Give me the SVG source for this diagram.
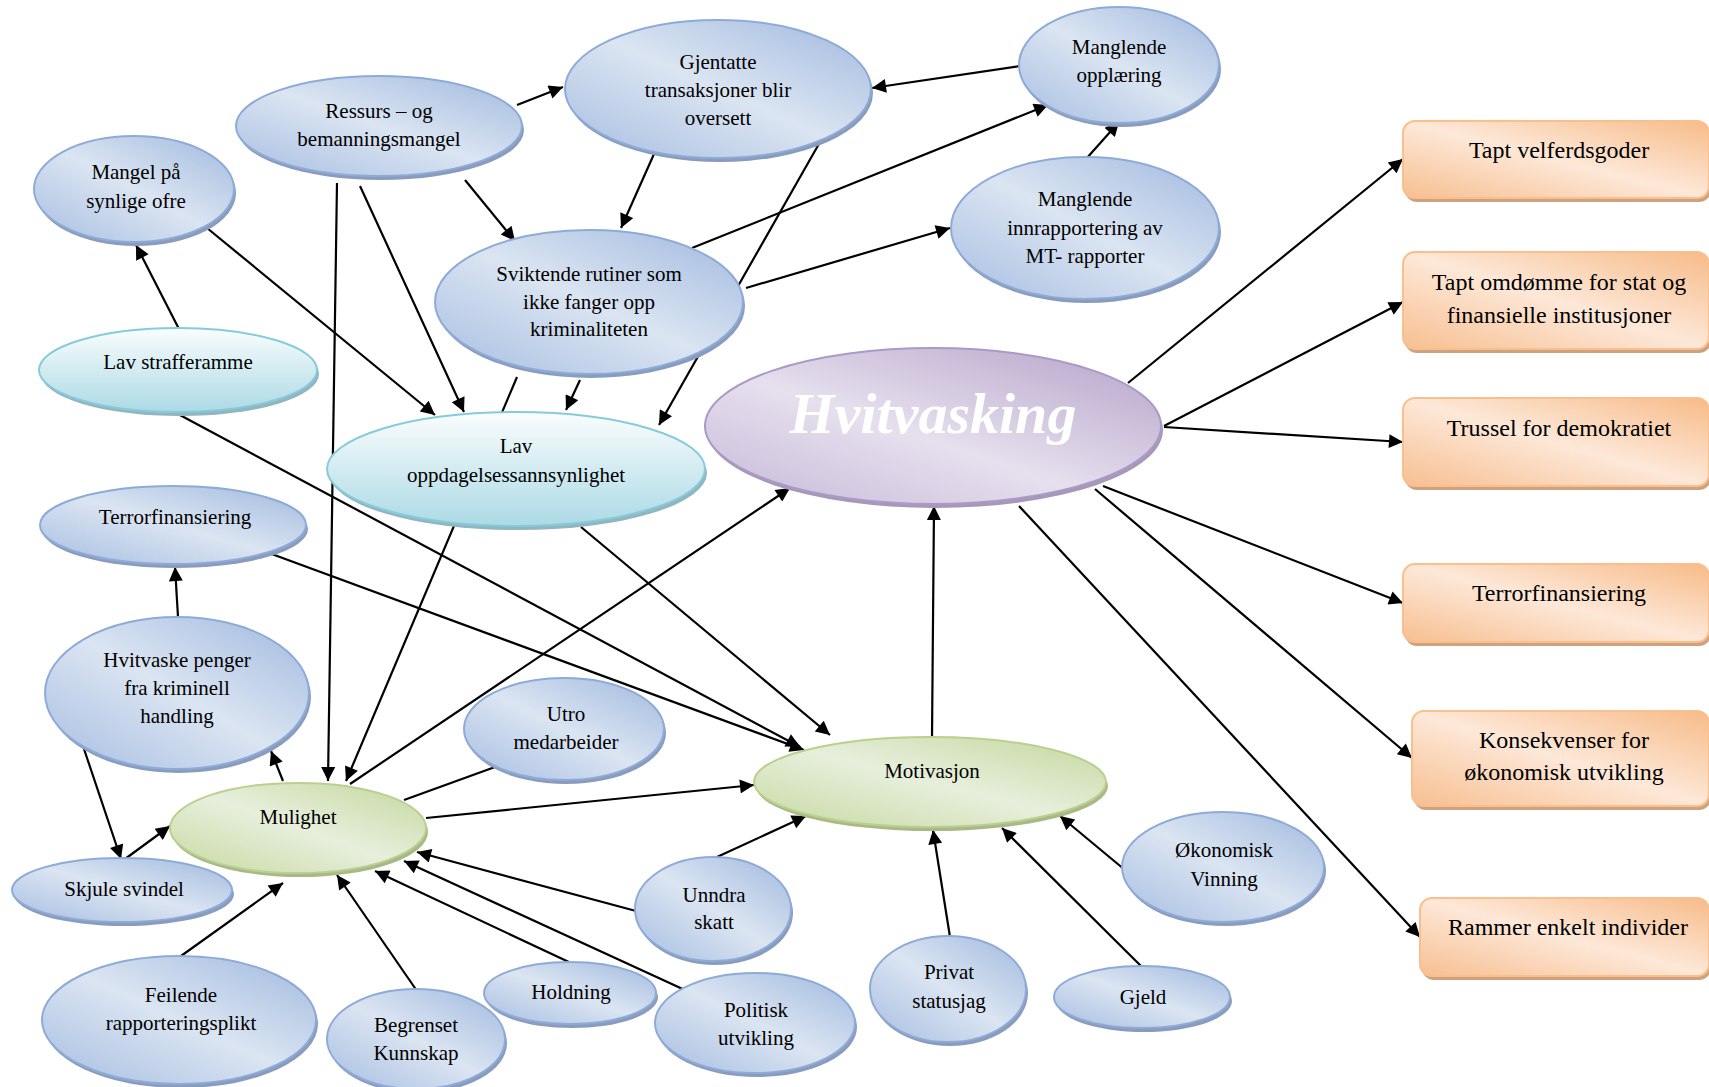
<svg xmlns="http://www.w3.org/2000/svg" width="1709" height="1087" viewBox="0 0 1709 1087">
<defs>
<linearGradient id="gBlue" x1="1" y1="0" x2="0" y2="1">
<stop offset="0" stop-color="#9fb8de"/><stop offset="0.5" stop-color="#dbe5f2"/><stop offset="1" stop-color="#a6bde1"/>
</linearGradient>
<linearGradient id="gGreen" x1="1" y1="0" x2="0" y2="1">
<stop offset="0" stop-color="#c4d79d"/><stop offset="0.5" stop-color="#e7efdc"/><stop offset="1" stop-color="#c7d9a1"/>
</linearGradient>
<linearGradient id="gCyan" x1="0" y1="0" x2="0" y2="1">
<stop offset="0" stop-color="#fafdfd"/><stop offset="1" stop-color="#acdae5"/>
</linearGradient>
<linearGradient id="gPurple" x1="1" y1="0" x2="0" y2="1">
<stop offset="0" stop-color="#b3a1c8"/><stop offset="0.55" stop-color="#e6e0ee"/><stop offset="1" stop-color="#c6b8d8"/>
</linearGradient>
<linearGradient id="gOrange" x1="1" y1="0" x2="0" y2="1">
<stop offset="0" stop-color="#f7bb88"/><stop offset="0.5" stop-color="#fde8d8"/><stop offset="1" stop-color="#f7bf91"/>
</linearGradient>
<marker id="ah" viewBox="0 0 10 10" refX="10" refY="5" markerWidth="16" markerHeight="14" markerUnits="userSpaceOnUse" orient="auto">
<path d="M0,0 L10,5 L0,10 z" fill="#000"/>
</marker>
<style>
.blue{fill:url(#gBlue);stroke:#8eabd8;stroke-width:2}
.green{fill:url(#gGreen);stroke:#b9d08e;stroke-width:2}
.cyan{fill:url(#gCyan);stroke:#86cbdb;stroke-width:2}
.purple{fill:url(#gPurple);stroke:#ab99c6;stroke-width:2}
.orange{fill:url(#gOrange);stroke:#f9bf8c;stroke-width:2}
.shb{fill:#8a9cbd}
.shg{fill:#a8b886}
.shc{fill:#92b5bf}
.shp{fill:#a898b8}
.sho{fill:#cfa27f}
text{font-family:"Liberation Serif","Times New Roman",serif;font-size:21px;fill:#000;text-anchor:middle}
.big{font-size:24px}
.title{font-size:58px;font-weight:bold;font-style:italic;fill:#fff}
#connectors line,#connectors path{stroke:#000;stroke-width:2.2;fill:none}
.a{marker-end:url(#ah)}
</style>
</defs>
<rect width="1709" height="1087" fill="#fff"/>
<g id="connectors">
<line class="a" x1="517" y1="105" x2="563" y2="87"/>
<line class="a" x1="179" y1="329" x2="136" y2="245"/>
<line class="a" x1="207" y1="228" x2="435" y2="415"/>
<line class="a" x1="360" y1="186" x2="464" y2="412"/>
<line class="a" x1="337" y1="183" x2="328" y2="781"/>
<line class="a" x1="465" y1="180" x2="515" y2="241"/>
<line class="a" x1="517" y1="377" x2="346" y2="781"/>
<line class="a" x1="820" y1="142" x2="659" y2="425"/>
<line class="a" x1="654" y1="154" x2="621" y2="228"/>
<line class="a" x1="1020" y1="66" x2="872" y2="88"/>
<line class="a" x1="692" y1="248" x2="1048" y2="105"/>
<line class="a" x1="746" y1="288" x2="950" y2="228"/>
<line class="a" x1="1086" y1="159" x2="1119" y2="122"/>
<line class="a" x1="580" y1="380" x2="566" y2="410"/>
<line class="a" x1="1128" y1="383" x2="1403" y2="159"/>
<line class="a" x1="1164" y1="426" x2="1403" y2="302"/>
<line class="a" x1="1164" y1="427" x2="1403" y2="442"/>
<line class="a" x1="1103" y1="486" x2="1403" y2="603"/>
<line class="a" x1="1095" y1="489" x2="1412" y2="758"/>
<line class="a" x1="1019" y1="506" x2="1420" y2="937"/>
<line class="a" x1="932" y1="737" x2="934" y2="506"/>
<line class="a" x1="350" y1="784" x2="790" y2="488"/>
<line class="a" x1="426" y1="818" x2="754" y2="785"/>
<line x1="495" y1="767" x2="404" y2="800"/>
<line class="a" x1="178" y1="414" x2="800" y2="747"/>
<line class="a" x1="269" y1="553" x2="804" y2="750"/>
<line class="a" x1="581" y1="527" x2="830" y2="735"/>
<line class="a" x1="283" y1="781" x2="271" y2="751"/>
<line class="a" x1="178" y1="617" x2="175" y2="567"/>
<line class="a" x1="84" y1="749" x2="121" y2="859"/>
<line class="a" x1="125" y1="859" x2="170" y2="826"/>
<line class="a" x1="181" y1="956" x2="283" y2="883"/>
<line class="a" x1="417" y1="991" x2="337" y2="875"/>
<line class="a" x1="571" y1="963" x2="375" y2="871"/>
<line class="a" x1="687" y1="991" x2="404" y2="861"/>
<line class="a" x1="636" y1="911" x2="417" y2="852"/>
<line class="a" x1="717" y1="857" x2="806" y2="816"/>
<line class="a" x1="950" y1="937" x2="933" y2="830"/>
<line class="a" x1="1144" y1="969" x2="1002" y2="828"/>
<line class="a" x1="1125" y1="870" x2="1060" y2="816"/>
</g>
<g id="n-ressurs"><ellipse class="shb" cx="381" cy="130" rx="143" ry="50"/><ellipse class="blue" cx="379" cy="126" rx="143" ry="50"/><text x="379" y="118">Ressurs – og</text><text x="379" y="146">bemanningsmangel</text></g>
<g id="n-mangel"><ellipse class="shb" cx="136" cy="193" rx="100" ry="53"/><ellipse class="blue" cx="134" cy="189" rx="100" ry="53"/><text x="136" y="179">Mangel på</text><text x="136" y="208">synlige ofre</text></g>
<g id="n-gjentatte"><ellipse class="shb" cx="720" cy="93" rx="153" ry="69"/><ellipse class="blue" cx="718" cy="89" rx="153" ry="69"/><text x="718" y="69">Gjentatte</text><text x="718" y="97">transaksjoner blir</text><text x="718" y="125">oversett</text></g>
<g id="n-opplaering"><ellipse class="shb" cx="1121" cy="69" rx="100" ry="58"/><ellipse class="blue" cx="1119" cy="65" rx="100" ry="58"/><text x="1119" y="54">Manglende</text><text x="1119" y="82">opplæring</text></g>
<g id="n-innrapp"><ellipse class="shb" cx="1087" cy="232" rx="134" ry="71"/><ellipse class="blue" cx="1085" cy="228" rx="134" ry="71"/><text x="1085" y="206">Manglende</text><text x="1085" y="235">innrapportering av</text><text x="1085" y="263">MT- rapporter</text></g>
<g id="n-sviktende"><ellipse class="shb" cx="591" cy="306" rx="154" ry="72"/><ellipse class="blue" cx="589" cy="302" rx="154" ry="72"/><text x="589" y="281">Sviktende rutiner som</text><text x="589" y="309">ikke fanger opp</text><text x="589" y="336">kriminaliteten</text></g>
<g id="n-straff"><ellipse class="shc" cx="180" cy="374" rx="139" ry="42"/><ellipse class="cyan" cx="178" cy="370" rx="139" ry="42"/><text x="178" y="369">Lav strafferamme</text></g>
<g id="n-lavopp"><ellipse class="shc" cx="518" cy="473" rx="189" ry="57"/><ellipse class="cyan" cx="516" cy="469" rx="189" ry="57"/><text x="516" y="453">Lav</text><text x="516" y="482">oppdagelsessannsynlighet</text></g>
<g id="n-hvitvasking"><ellipse class="shp" cx="935" cy="430" rx="228" ry="78"/><ellipse class="purple" cx="933" cy="426" rx="228" ry="78"/><text class="title" x="933" y="433">Hvitvasking</text></g>
<g id="n-terror"><ellipse class="shb" cx="175" cy="529" rx="133" ry="39"/><ellipse class="blue" cx="173" cy="525" rx="133" ry="39"/><text x="175" y="524">Terrorfinansiering</text></g>
<g id="n-hvitvaske"><ellipse class="shb" cx="179" cy="697" rx="132" ry="76"/><ellipse class="blue" cx="177" cy="693" rx="132" ry="76"/><text x="177" y="667">Hvitvaske penger</text><text x="177" y="695">fra kriminell</text><text x="177" y="723">handling</text></g>
<g id="n-utro"><ellipse class="shb" cx="566" cy="733" rx="100" ry="51"/><ellipse class="blue" cx="564" cy="729" rx="100" ry="51"/><text x="566" y="721">Utro</text><text x="566" y="749">medarbeider</text></g>
<g id="n-mulighet"><ellipse class="shg" cx="300" cy="832" rx="128" ry="45"/><ellipse class="green" cx="298" cy="828" rx="128" ry="45"/><text x="298" y="824">Mulighet</text></g>
<g id="n-motivasjon"><ellipse class="shg" cx="932" cy="786" rx="176" ry="45"/><ellipse class="green" cx="930" cy="782" rx="176" ry="45"/><text x="932" y="778">Motivasjon</text></g>
<g id="n-skjule"><ellipse class="shb" cx="124" cy="894" rx="110" ry="32"/><ellipse class="blue" cx="122" cy="890" rx="110" ry="32"/><text x="124" y="896">Skjule svindel</text></g>
<g id="n-feilende"><ellipse class="shb" cx="181" cy="1024" rx="137" ry="64"/><ellipse class="blue" cx="179" cy="1020" rx="137" ry="64"/><text x="181" y="1002">Feilende</text><text x="181" y="1030">rapporteringsplikt</text></g>
<g id="n-begrenset"><ellipse class="shb" cx="418" cy="1043" rx="89" ry="50"/><ellipse class="blue" cx="416" cy="1039" rx="89" ry="50"/><text x="416" y="1032">Begrenset</text><text x="416" y="1060">Kunnskap</text></g>
<g id="n-holdning"><ellipse class="shb" cx="572" cy="997" rx="86" ry="31"/><ellipse class="blue" cx="570" cy="993" rx="86" ry="31"/><text x="571" y="999">Holdning</text></g>
<g id="n-unndra"><ellipse class="shb" cx="715" cy="913" rx="78" ry="52"/><ellipse class="blue" cx="713" cy="909" rx="78" ry="52"/><text x="714" y="902">Unndra</text><text x="714" y="929">skatt</text></g>
<g id="n-politisk"><ellipse class="shb" cx="757" cy="1027" rx="100" ry="50"/><ellipse class="blue" cx="755" cy="1023" rx="100" ry="50"/><text x="756" y="1017">Politisk</text><text x="756" y="1045">utvikling</text></g>
<g id="n-privat"><ellipse class="shb" cx="950" cy="993" rx="78" ry="53"/><ellipse class="blue" cx="948" cy="989" rx="78" ry="53"/><text x="949" y="979">Privat</text><text x="949" y="1008">statusjag</text></g>
<g id="n-gjeld"><ellipse class="shb" cx="1144" cy="1001" rx="88" ry="31"/><ellipse class="blue" cx="1142" cy="997" rx="88" ry="31"/><text x="1143" y="1004">Gjeld</text></g>
<g id="n-okonomisk"><ellipse class="shb" cx="1225" cy="871" rx="101" ry="55"/><ellipse class="blue" cx="1223" cy="867" rx="101" ry="55"/><text x="1224" y="857">Økonomisk</text><text x="1224" y="886">Vinning</text></g>
<g id="b-velferd"><rect class="sho" x="1405" y="125" width="306" height="77" rx="12"/><rect class="orange" x="1403" y="121" width="306" height="77" rx="12"/><text class="big" x="1559" y="158">Tapt velferdsgoder</text></g>
<g id="b-omdomme"><rect class="sho" x="1405" y="256" width="306" height="97" rx="12"/><rect class="orange" x="1403" y="252" width="306" height="97" rx="12"/><text class="big" x="1559" y="290">Tapt omdømme for stat og</text><text class="big" x="1559" y="323">finansielle institusjoner</text></g>
<g id="b-trussel"><rect class="sho" x="1405" y="402" width="306" height="88" rx="12"/><rect class="orange" x="1403" y="398" width="306" height="88" rx="12"/><text class="big" x="1559" y="436">Trussel for demokratiet</text></g>
<g id="b-terror"><rect class="sho" x="1405" y="568" width="306" height="78" rx="12"/><rect class="orange" x="1403" y="564" width="306" height="78" rx="12"/><text class="big" x="1559" y="601">Terrorfinansiering</text></g>
<g id="b-konsekvenser"><rect class="sho" x="1414" y="715" width="297" height="95" rx="12"/><rect class="orange" x="1412" y="711" width="297" height="95" rx="12"/><text class="big" x="1564" y="748">Konsekvenser for</text><text class="big" x="1564" y="780">økonomisk utvikling</text></g>
<g id="b-rammer"><rect class="sho" x="1422" y="902" width="289" height="78" rx="12"/><rect class="orange" x="1420" y="898" width="289" height="78" rx="12"/><text class="big" x="1568" y="935">Rammer enkelt individer</text></g>
</svg>
